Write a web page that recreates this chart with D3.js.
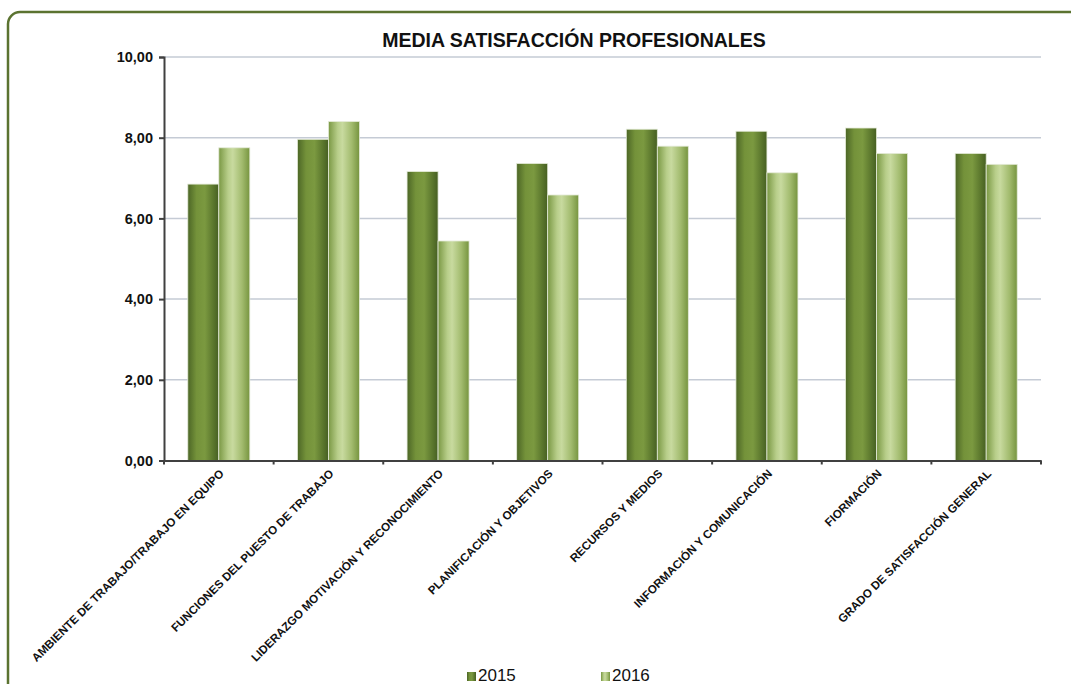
<!DOCTYPE html>
<html>
<head>
<meta charset="utf-8">
<script src="https://cdn.jsdelivr.net/npm/d3@7"></script>
<style>
    body { margin: 0; background: #fff; font-family: Arial, "Liberation Sans", sans-serif; }
    svg { display: block; }
</style>
</head>
<body>
<div id="chart"></div>
<script>
// ===== Data =====
const categories = [
    'AMBIENTE DE TRABAJO/TRABAJO EN EQUIPO',
    'FUNCIONES DEL PUESTO DE TRABAJO',
    'LIDERAZGO MOTIVACIÓN Y RECONOCIMIENTO',
    'PLANIFICACIÓN Y OBJETIVOS',
    'RECURSOS Y MEDIOS',
    'INFORMACIÓN Y COMUNICACIÓN',
    'FIORMACIÓN',
    'GRADO DE SATISFACCIÓN GENERAL'
];
const seriesNames = ['2015', '2016'];
const values2015 = [6.85, 7.96, 7.16, 7.36, 8.21, 8.16, 8.24, 7.61];
const values2016 = [7.75, 8.40, 5.44, 6.58, 7.79, 7.13, 7.61, 7.34];
const yTicks = [0, 2, 4, 6, 8, 10];

// ===== Setup =====
const W = 1071, H = 684;
const margin = { top: 57, right: 30, bottom: 223, left: 164 };
const width = 1041 - margin.left;
const height = 460.5 - margin.top;
const FONT = 'Arial, "Liberation Sans", sans-serif';

const svg = d3.select('#chart').append('svg')
    .attr('width', W)
    .attr('height', H);

const defs = svg.append('defs');

function barGradient(id, stops) {
    const g = defs.append('linearGradient')
        .attr('id', id)
        .attr('x1', '0%').attr('x2', '100%')
        .attr('y1', '0%').attr('y2', '0%');
    stops.forEach(s => g.append('stop').attr('offset', s[0]).attr('stop-color', s[1]));
}
barGradient('g2015', [['0%', '#4c6626'], ['28%', '#74923a'], ['55%', '#7b9940'], ['82%', '#5b772d'], ['100%', '#465f22']]);
barGradient('g2016', [['0%', '#7a9844'], ['30%', '#b8ce8a'], ['45%', '#c8da9f'], ['75%', '#a2bb6e'], ['100%', '#76943f']]);

// outer frame
svg.append('rect')
    .attr('x', 8).attr('y', 12)
    .attr('width', W + 20).attr('height', H + 20)
    .attr('rx', 12)
    .attr('fill', '#fff')
    .attr('stroke', '#5b7330')
    .attr('stroke-width', 2.5);

svg.append('text')
    .attr('x', 574)
    .attr('y', 47)
    .attr('text-anchor', 'middle')
    .style('font-family', FONT)
    .style('font-size', '19.5px')
    .style('font-weight', 'bold')
    .style('fill', '#111')
    .text('MEDIA SATISFACCIÓN PROFESIONALES');

const g = svg.append('g')
    .attr('transform', `translate(${margin.left},${margin.top})`);

// ===== Scales =====
const xScale = d3.scaleBand()
    .domain(categories)
    .range([0, width]);

const xInner = d3.scaleBand()
    .domain(seriesNames)
    .range([0, 62]);

const yScale = d3.scaleLinear()
    .domain([0, 10])
    .range([height, 0]);

// gridlines
g.selectAll('.grid')
    .data(yTicks.filter(d => d > 0))
    .enter()
    .append('line')
    .attr('x1', 0).attr('x2', width)
    .attr('y1', d => yScale(d)).attr('y2', d => yScale(d))
    .attr('stroke', '#c5cbd5')
    .attr('stroke-width', 1.5);

// bars
const data = categories.map((c, i) => ({ cat: c, vals: [values2015[i], values2016[i]] }));

const groups = g.selectAll('.cat')
    .data(data)
    .enter()
    .append('g')
    .attr('transform', d => `translate(${xScale(d.cat) + xScale.bandwidth() / 2 - 31},0)`);

groups.selectAll('rect')
    .data(d => d.vals.map((v, k) => ({ key: seriesNames[k], v })))
    .enter()
    .append('rect')
    .attr('x', d => xInner(d.key))
    .attr('y', d => yScale(d.v))
    .attr('width', xInner.bandwidth())
    .attr('height', d => height - yScale(d.v))
    .attr('fill', d => `url(#g${d.key})`)
    .attr('stroke', '#e4ead8')
    .attr('stroke-width', 0.8);

// Y axis
const yAxis = g.append('g')
    .call(d3.axisLeft(yScale)
        .tickValues(yTicks)
        .tickSize(5)
        .tickFormat(d => d3.format('.2f')(d).replace('.', ',')));
yAxis.select('.domain').attr('stroke', '#404040').attr('stroke-width', 2);
yAxis.selectAll('.tick line').attr('stroke', '#404040').attr('stroke-width', 2);
yAxis.selectAll('text')
    .attr('x', -11)
    .style('font-size', '14.5px')
    .style('font-weight', 'bold')
    .style('font-family', FONT)
    .style('fill', '#111');

// X axis
const xAxis = g.append('g')
    .attr('transform', `translate(0,${height})`)
    .call(d3.axisBottom(xScale).tickSize(0).tickSizeOuter(0));
xAxis.select('.domain').attr('stroke', '#404040').attr('stroke-width', 2);

xAxis.selectAll('.xt')
    .data(d3.range(categories.length + 1))
    .enter()
    .append('line')
    .attr('x1', i => i * xScale.bandwidth())
    .attr('x2', i => i * xScale.bandwidth())
    .attr('y1', 0).attr('y2', 4)
    .attr('stroke', '#404040')
    .attr('stroke-width', 2);

xAxis.selectAll('.tick text')
    .attr('transform', 'translate(3,11) rotate(-45)')
    .attr('x', 0).attr('y', 0).attr('dy', '0.35em')
    .style('text-anchor', 'end')
    .style('font-size', '11.6px')
    .style('font-weight', 'bold')
    .style('font-family', FONT)
    .style('fill', '#111');

// ===== Legend =====
const legendX = [467, 601];
const legend = svg.selectAll('.legend')
    .data(seriesNames)
    .enter()
    .append('g')
    .attr('transform', (d, i) => `translate(${legendX[i]},681)`);

legend.append('rect')
    .attr('x', 0).attr('y', -9)
    .attr('width', 9).attr('height', 9)
    .attr('fill', d => `url(#g${d})`);

legend.append('text')
    .attr('x', 11)
    .attr('y', 0)
    .style('font-family', FONT)
    .style('font-size', '17px')
    .style('fill', '#111')
    .text(d => d);
</script>
</body>
</html>
